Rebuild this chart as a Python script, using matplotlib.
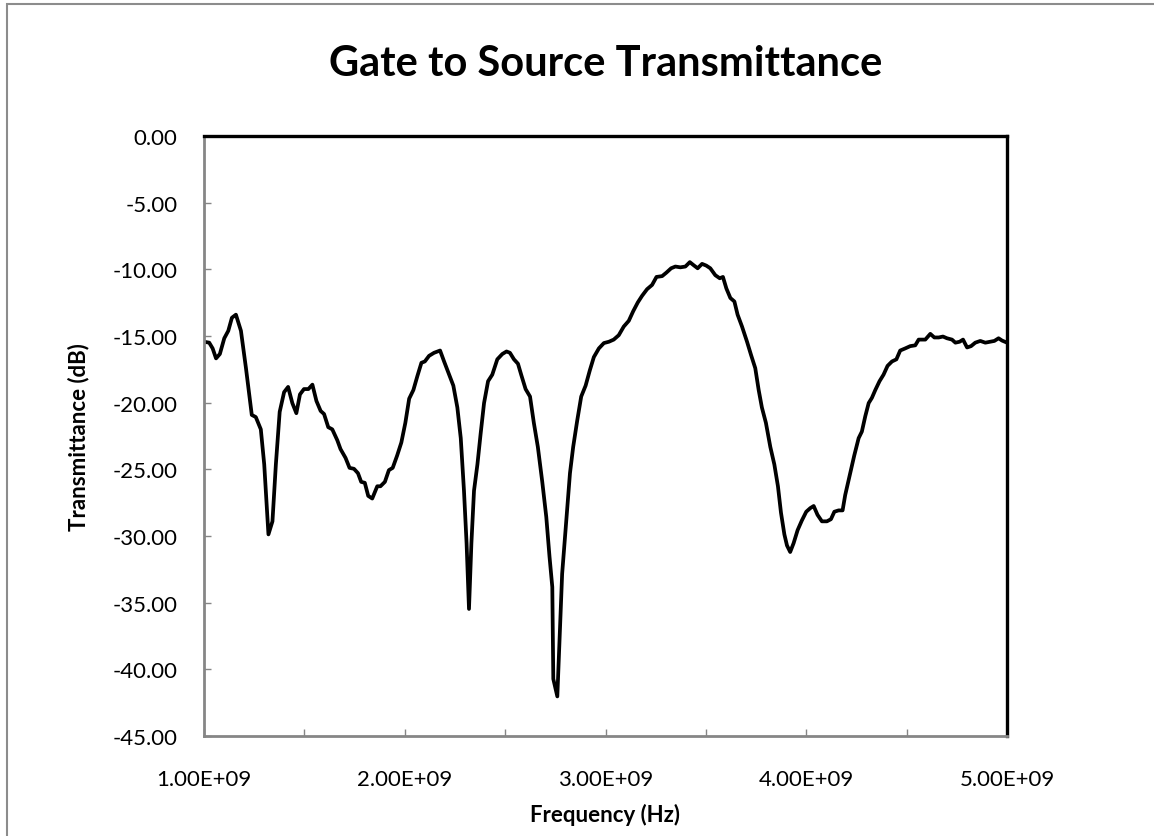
import numpy as np
import matplotlib
matplotlib.use("Agg")
import matplotlib.pyplot as plt
from matplotlib.ticker import FuncFormatter, MultipleLocator
from matplotlib.patches import Rectangle

# Frequency in GHz, transmittance in dB
freq_ghz = [
    1.000, 1.026, 1.043, 1.060, 1.079, 1.101, 1.121, 1.139, 1.159, 1.184,
    1.209, 1.238, 1.258, 1.283, 1.300, 1.321, 1.341, 1.358, 1.377, 1.399,
    1.419, 1.440, 1.460, 1.478, 1.498, 1.520, 1.540, 1.560, 1.581, 1.598,
    1.619, 1.639, 1.664, 1.680, 1.705, 1.725, 1.747, 1.767, 1.783, 1.801,
    1.818, 1.838, 1.863, 1.879, 1.901, 1.921, 1.940, 1.962, 1.983, 2.003,
    2.022, 2.043, 2.063, 2.083, 2.100, 2.121, 2.146, 2.176, 2.196, 2.221,
    2.242, 2.262, 2.279, 2.295, 2.308, 2.320, 2.332, 2.345, 2.362, 2.378,
    2.395, 2.415, 2.436, 2.461, 2.486, 2.507, 2.524, 2.544, 2.564, 2.580,
    2.602, 2.624, 2.643, 2.663, 2.685, 2.705, 2.721, 2.735, 2.740, 2.760,
    2.773, 2.784, 2.801, 2.823, 2.839, 2.859, 2.879, 2.901, 2.922, 2.942,
    2.967, 2.992, 3.017, 3.041, 3.066, 3.091, 3.116, 3.138, 3.161, 3.182,
    3.207, 3.232, 3.254, 3.282, 3.303, 3.327, 3.348, 3.373, 3.398, 3.420,
    3.439, 3.459, 3.481, 3.502, 3.522, 3.547, 3.569, 3.585, 3.602, 3.622,
    3.642, 3.658, 3.680, 3.705, 3.725, 3.746, 3.763, 3.779, 3.799, 3.821,
    3.841, 3.859, 3.874, 3.891, 3.904, 3.920, 3.937, 3.957, 3.978, 4.000,
    4.020, 4.037, 4.056, 4.078, 4.103, 4.123, 4.140, 4.161, 4.181, 4.194,
    4.219, 4.239, 4.261, 4.277, 4.294, 4.311, 4.327, 4.344, 4.365, 4.385,
    4.405, 4.427, 4.449, 4.468, 4.493, 4.518, 4.543, 4.560, 4.593, 4.618,
    4.638, 4.660, 4.681, 4.701, 4.726, 4.743, 4.764, 4.781, 4.801, 4.821,
    4.842, 4.867, 4.892, 4.917, 4.937, 4.958, 4.975, 5.000,
]
transmittance_db = [
    -15.43, -15.50, -15.93, -16.68, -16.35, -15.17, -14.61, -13.63, -13.40, -14.61,
    -17.41, -20.92, -21.08, -22.00, -24.63, -29.88, -28.90, -24.63, -20.69, -19.21,
    -18.82, -20.03, -20.79, -19.38, -18.98, -18.98, -18.65, -19.87, -20.62, -20.85,
    -21.84, -22.00, -22.82, -23.48, -24.14, -24.89, -24.96, -25.29, -25.94, -26.01,
    -26.99, -27.19, -26.27, -26.27, -25.94, -25.06, -24.89, -23.97, -22.99, -21.51,
    -19.70, -19.05, -18.00, -17.01, -16.91, -16.49, -16.26, -16.09, -16.91, -17.90,
    -18.72, -20.36, -22.66, -26.60, -30.54, -35.47, -30.54, -26.60, -24.63, -22.33,
    -20.03, -18.39, -17.90, -16.75, -16.35, -16.16, -16.26, -16.75, -17.08, -17.90,
    -18.98, -19.54, -21.51, -23.32, -25.94, -28.57, -31.53, -33.83, -40.72, -42.03,
    -37.11, -32.84, -29.56, -25.29, -23.32, -21.35, -19.54, -18.72, -17.57, -16.58,
    -15.93, -15.53, -15.43, -15.27, -14.94, -14.29, -13.86, -13.14, -12.48, -11.99,
    -11.49, -11.17, -10.57, -10.51, -10.25, -9.92, -9.79, -9.85, -9.79, -9.46,
    -9.69, -9.92, -9.59, -9.72, -9.92, -10.44, -10.67, -10.57, -11.43, -12.15,
    -12.41, -13.40, -14.29, -15.43, -16.42, -17.41, -19.05, -20.36, -21.51, -23.32,
    -24.63, -26.27, -28.24, -29.88, -30.71, -31.20, -30.54, -29.56, -28.84, -28.18,
    -27.91, -27.75, -28.41, -28.90, -28.90, -28.74, -28.18, -28.08, -28.08, -26.93,
    -25.29, -23.97, -22.66, -22.17, -21.02, -20.03, -19.64, -19.05, -18.39, -17.90,
    -17.24, -16.91, -16.75, -16.09, -15.93, -15.76, -15.70, -15.27, -15.27, -14.84,
    -15.11, -15.11, -15.04, -15.17, -15.27, -15.50, -15.43, -15.27, -15.86, -15.76,
    -15.50, -15.37, -15.50, -15.43, -15.37, -15.17, -15.34, -15.50,
]

freq_hz = np.array(freq_ghz) * 1e9

plt.rcParams['font.family'] = ['Lato', 'DejaVu Sans']

fig = plt.figure(figsize=(11.54, 8.37), dpi=100)
ax = fig.add_axes([204 / 1154, 1 - 737 / 837, (1007 - 204) / 1154, (737 - 137) / 837])

ax.plot(freq_hz, transmittance_db, color='black', linewidth=2.7, solid_joinstyle='round')

ax.set_xlim(1e9, 5e9)
ax.set_ylim(-45, 0)
ax.xaxis.set_major_locator(MultipleLocator(1e9))
ax.xaxis.set_minor_locator(MultipleLocator(0.5e9))
ax.yaxis.set_major_locator(MultipleLocator(5))
ax.xaxis.set_major_formatter(FuncFormatter(lambda v, p: f"{v:.2E}"))
ax.yaxis.set_major_formatter(FuncFormatter(lambda v, p: f"{v:.2f}"))

ax.tick_params(axis='both', which='both', direction='in', length=5, width=1,
               color='#868686', labelsize=16)
ax.tick_params(axis='y', pad=19)
ax.tick_params(axis='x', pad=24)

for side in ['left', 'bottom']:
    ax.spines[side].set_color('#868686')
    ax.spines[side].set_linewidth(2)
for side in ['top', 'right']:
    ax.spines[side].set_color('black')
    ax.spines[side].set_linewidth(2.4)

ax.set_xlabel("Frequency (Hz)", fontsize=16, fontweight='bold', labelpad=10)
ax.set_ylabel("Transmittance (dB)", fontsize=16, fontweight='bold', labelpad=17)

fig.text((204 + 1007) / 2 / 1154, 1 - 64 / 837, "Gate to Source Transmittance",
         ha='center', va='center', fontsize=30, fontweight='bold')

# chart-area border (cut off at right and bottom like the reference)
fig.patches.append(Rectangle((7 / 1154, -0.1), 1.2, 1 - 5 / 837 + 0.1,
                             transform=fig.transFigure, fill=False,
                             edgecolor='#8c8c8c', linewidth=1.5))

fig.savefig("out.png", dpi=100)
